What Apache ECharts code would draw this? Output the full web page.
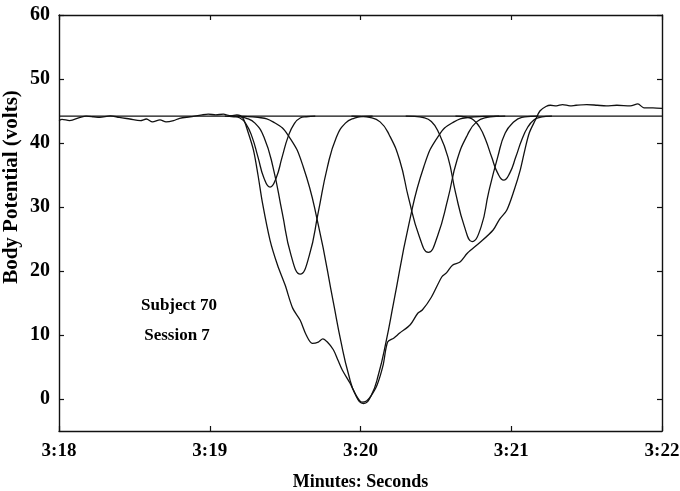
<!DOCTYPE html>
<html>
<head>
<meta charset="utf-8">
<script src="https://cdn.jsdelivr.net/npm/echarts@6/dist/echarts.min.js"></script>
<style>
  html, body { margin: 0; padding: 0; background: #fff; }
  #chart { width: 680px; height: 491px; }
</style>
</head>
<body>
<div id="chart"></div>
<script>
// Time axis in seconds past the minute mark (3:18 = 198 s)
const xTicks = [198, 199, 200, 201, 202];
const xTickLabels = ['3:18', '3:19', '3:20', '3:21', '3:22'];
const yTicks = [0, 10, 20, 30, 40, 50, 60];

// Resting body potential level (volts)
const baselineTime = [198, 202];
const baselineVolts = [44.2, 44.2];

// Recorded body potential trace
const rawTime = [198.00, 198.02, 198.07, 198.14, 198.18, 198.23, 198.27, 198.34, 198.40, 198.47,
  198.54, 198.58, 198.62, 198.67, 198.71, 198.76, 198.80, 198.87, 198.95, 198.99,
  199.04, 199.09, 199.14, 199.18, 199.22, 199.25, 199.29, 199.32, 199.35, 199.40,
  199.45, 199.50, 199.55, 199.60, 199.64, 199.68, 199.72, 199.75, 199.78, 199.82,
  199.85, 199.88, 199.93, 199.97, 200.01, 200.04, 200.07, 200.11, 200.15, 200.18,
  200.22, 200.26, 200.33, 200.38, 200.41, 200.47, 200.54, 200.57, 200.61, 200.66,
  200.71, 200.79, 200.88, 200.92, 200.97, 201.02, 201.06, 201.09, 201.12, 201.16,
  201.19, 201.23, 201.26, 201.30, 201.34, 201.39, 201.43, 201.50, 201.57, 201.63,
  201.70, 201.79, 201.84, 201.88, 201.94, 202.00];
const rawVolts = [43.5, 43.7, 43.5, 44.0, 44.2, 44.1, 44.0, 44.25, 44.0, 43.75,
  43.5, 43.75, 43.3, 43.6, 43.3, 43.5, 43.85, 44.1, 44.4, 44.5,
  44.4, 44.5, 44.25, 44.4, 43.9, 42.0, 38.9, 35.0, 30.6, 24.8,
  20.9, 17.8, 14.2, 12.3, 10.0, 8.7, 8.9, 9.4, 8.9, 7.7,
  6.1, 4.5, 2.5, 0.6, -0.5, -0.3, 0.5, 2.2, 5.3, 8.9,
  9.5, 10.3, 11.6, 13.4, 13.9, 15.9, 19.1, 19.7, 20.9, 21.4,
  22.8, 24.4, 26.4, 28.0, 29.5, 32.7, 35.8, 38.9, 41.6, 43.6,
  45.0, 45.7, 45.9, 45.8, 46.0, 45.8, 45.9, 46.0, 45.9, 45.8,
  45.9, 45.8, 46.1, 45.5, 45.5, 45.4];

// Component responses
const comp1Time = [199.10, 199.16, 199.20, 199.24, 199.28, 199.32, 199.36, 199.40, 199.44, 199.48, 199.52, 199.56, 199.60, 199.64, 199.70];
const comp1Volts = [44.2, 44.1, 43.9, 43.0, 41.0, 37.8, 34.5, 33.1, 34.5, 37.8, 41.0, 43.0, 43.9, 44.1, 44.2];

const comp2Time = [199.12, 199.18, 199.24, 199.30, 199.36, 199.42, 199.48, 199.54, 199.60, 199.66, 199.72, 199.78, 199.84, 199.90, 199.96, 200.02, 200.08];
const comp2Volts = [44.2, 44.15, 43.9, 43.1, 40.9, 36.2, 29.2, 22.4, 19.5, 22.4, 29.2, 36.2, 40.9, 43.1, 43.9, 44.15, 44.2];

const comp3Time = [199.12, 199.22, 199.32, 199.42, 199.52, 199.62, 199.72, 199.82, 199.87, 199.92, 199.97, 200.02, 200.07, 200.12, 200.17, 200.22, 200.32, 200.42, 200.52, 200.62, 200.72, 200.82, 200.92];
const comp3Volts = [44.2, 44.15, 44.0, 43.3, 41.2, 36.3, 27.2, 15.1, 9.0, 3.9, 0.5, -0.7, 0.5, 3.9, 9.0, 15.1, 27.2, 36.3, 41.2, 43.3, 44.0, 44.15, 44.2];

const comp4Time = [199.94, 200.00, 200.06, 200.13, 200.19, 200.26, 200.32, 200.39, 200.45, 200.51, 200.58, 200.64, 200.71, 200.77, 200.84, 200.90, 200.96];
const comp4Volts = [44.2, 44.15, 44.0, 43.3, 41.3, 37.3, 31.3, 25.4, 22.9, 25.4, 31.3, 37.3, 41.3, 43.3, 44.0, 44.15, 44.2];

const comp5Time = [200.30, 200.36, 200.41, 200.47, 200.52, 200.58, 200.63, 200.69, 200.74, 200.80, 200.85, 200.91, 200.96, 201.02, 201.07, 201.13, 201.18];
const comp5Volts = [44.2, 44.15, 44.0, 43.35, 41.55, 37.8, 32.3, 26.9, 24.6, 26.9, 32.3, 37.8, 41.55, 43.35, 44.0, 44.15, 44.2];

const comp6Time = [200.63, 200.67, 200.71, 200.75, 200.79, 200.83, 200.87, 200.91, 200.95, 200.99, 201.03, 201.07, 201.11, 201.15, 201.19, 201.23, 201.27];
const comp6Volts = [44.2, 44.15, 44.0, 43.6, 42.5, 40.5, 37.8, 35.3, 34.2, 35.3, 37.8, 40.5, 42.5, 43.6, 44.0, 44.15, 44.2];

const components = [
  [comp1Time, comp1Volts], [comp2Time, comp2Volts], [comp3Time, comp3Volts],
  [comp4Time, comp4Volts], [comp5Time, comp5Volts], [comp6Time, comp6Volts]
];

const FONT = '"Liberation Serif", "Times New Roman", serif';
const INK = '#111';
const pair = (xs, ys) => xs.map((x, i) => [x, ys[i]]);

const lineSeries = (data, smooth) => ({
  type: 'line',
  data,
  smooth,
  showSymbol: false,
  symbol: 'none',
  silent: true,
  lineStyle: { color: INK, width: 1.3 },
  z: 3
});

const frameLine = { show: true, onZero: false, lineStyle: { color: INK, width: 1.4 } };
const innerTick = { inside: true, length: 5, lineStyle: { color: INK, width: 1.2 } };

const chart = echarts.init(document.getElementById('chart'), null, { renderer: 'canvas' });
chart.setOption({
  backgroundColor: '#fff',
  animation: false,
  grid: { left: 59, right: 18, top: 15, bottom: 60, containLabel: false, outerBoundsMode: 'none' },
  xAxis: [
    {
      type: 'value', position: 'bottom', min: 198, max: 202, interval: 1,
      axisLine: frameLine,
      axisTick: innerTick,
      splitLine: { show: false },
      axisLabel: {
        margin: 11, color: '#000', fontFamily: FONT, fontWeight: 'bold', fontSize: 19,
        formatter: v => xTickLabels[xTicks.indexOf(v)] || ''
      },
      name: 'Minutes: Seconds', nameLocation: 'middle', nameGap: 42,
      nameTextStyle: { color: '#000', fontFamily: FONT, fontWeight: 'bold', fontSize: 18 }
    },
    {
      type: 'value', position: 'top', min: 198, max: 202, interval: 1,
      axisLine: frameLine,
      axisTick: innerTick,
      axisLabel: { show: false }, splitLine: { show: false }
    }
  ],
  yAxis: [
    {
      type: 'value', position: 'left', min: -5, max: 60, interval: 5,
      axisLine: frameLine,
      axisTick: Object.assign({ customValues: yTicks }, innerTick),
      splitLine: { show: false },
      axisLabel: {
        customValues: yTicks, margin: 9, color: '#000', fontFamily: FONT, fontWeight: 'bold', fontSize: 20,
        formatter: v => (yTicks.indexOf(v) >= 0 ? String(v) : '')
      }
    },
    {
      type: 'value', position: 'right', min: -5, max: 60, interval: 5,
      axisLine: frameLine,
      axisTick: Object.assign({ customValues: yTicks }, innerTick),
      axisLabel: { show: false }, splitLine: { show: false }
    }
  ],
  graphic: [
    {
      type: 'text', x: 12, y: 187, rotation: Math.PI / 2,
      style: { text: 'Body Potential (volts)', font: 'bold 21px ' + FONT, fill: '#000', textAlign: 'center', textVerticalAlign: 'middle' }
    },
    {
      type: 'text', x: 179, y: 306,
      style: { text: 'Subject 70', font: 'bold 17px ' + FONT, fill: '#000', textAlign: 'center', textVerticalAlign: 'middle' }
    },
    {
      type: 'text', x: 177, y: 336,
      style: { text: 'Session 7', font: 'bold 17px ' + FONT, fill: '#000', textAlign: 'center', textVerticalAlign: 'middle' }
    }
  ],
  series: [
    lineSeries(pair(baselineTime, baselineVolts), false),
    lineSeries(pair(rawTime, rawVolts), 0.3),
    ...components.map(([t, v]) => lineSeries(pair(t, v), 0.5))
  ]
});
</script>
</body>
</html>
